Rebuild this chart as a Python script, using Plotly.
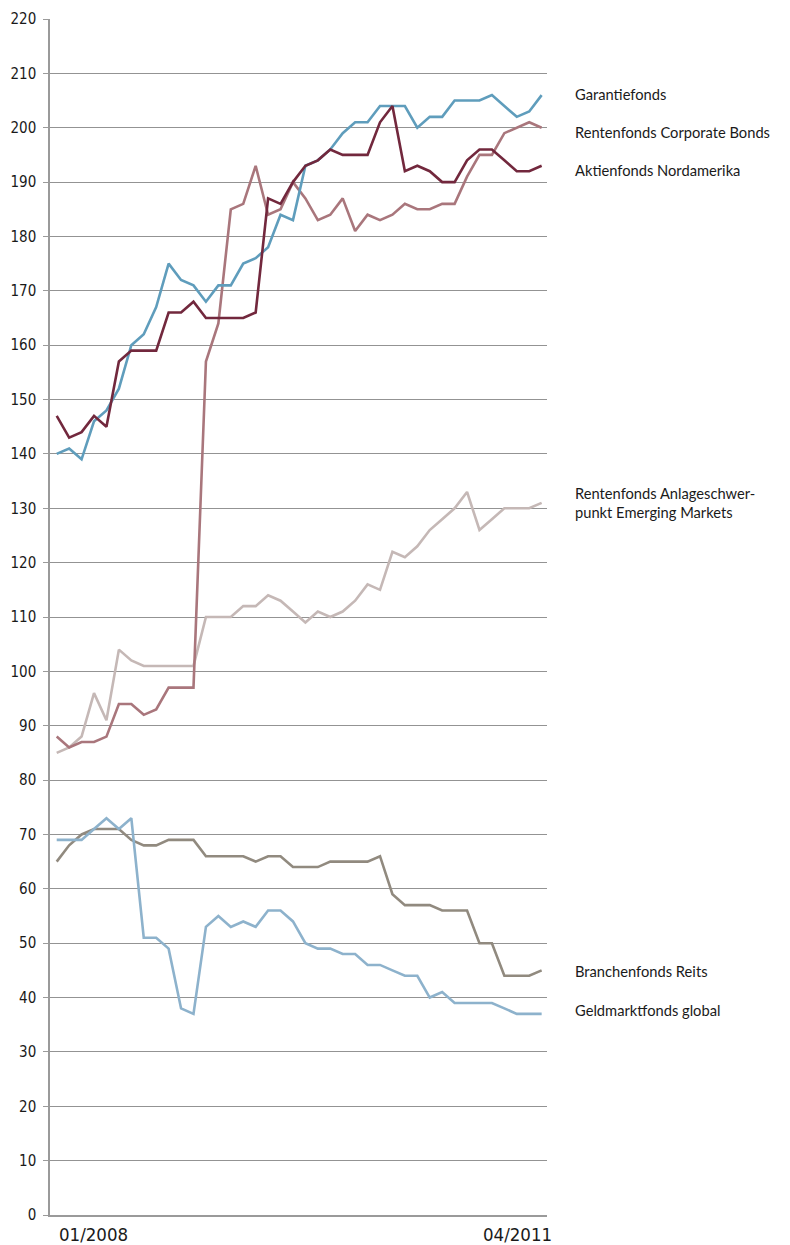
import plotly.graph_objects as go

months = [f"{m:02d}/{y}" for y in range(2008, 2012) for m in range(1, 13)][:40]
x_tick_labels = ["01/2008", "04/2011"]

garantiefonds = [140,141,139,146,148,152,160,162,167,175,172,171,168,171,171,175,176,178,184,183,
                 193,194,196,199,201,201,204,204,204,200,202,202,205,205,205,206,204,202,203,206]
aktien_nordamerika = [147,143,144,147,145,157,159,159,159,166,166,168,165,165,165,165,166,187,186,190,
                      193,194,196,195,195,195,201,204,192,193,192,190,190,194,196,196,194,192,192,193]
corporate_bonds = [88,86,87,87,88,94,94,92,93,97,97,97,157,164,185,186,193,184,185,190,
                   187,183,184,187,181,184,183,184,186,185,185,186,186,191,195,195,199,200,201,200]
emerging_markets = [85,86,88,96,91,104,102,101,101,101,101,101,110,110,110,112,112,114,113,111,
                    109,111,110,111,113,116,115,122,121,123,126,128,130,133,126,128,130,130,130,131]
reits = [65,68,70,71,71,71,69,68,68,69,69,69,66,66,66,66,65,66,66,64,
         64,64,65,65,65,65,66,59,57,57,57,56,56,56,50,50,44,44,44,45]
geldmarkt = [69,69,69,71,73,71,73,51,51,49,38,37,53,55,53,54,53,56,56,54,
             50,49,49,48,48,46,46,45,44,44,40,41,39,39,39,39,38,37,37,37]

series = [
    ("Rentenfonds Anlageschwer-<br>punkt Emerging Markets", emerging_markets, "#c5b8b6"),
    ("Branchenfonds Reits", reits, "#918a7f"),
    ("Geldmarktfonds global", geldmarkt, "#8db2cc"),
    ("Rentenfonds Corporate Bonds", corporate_bonds, "#a9767c"),
    ("Garantiefonds", garantiefonds, "#5f9dbc"),
    ("Aktienfonds Nordamerika", aktien_nordamerika, "#72283d"),
]
label_pos = {
    "Garantiefonds": 206.2,
    "Rentenfonds Corporate Bonds": 199.2,
    "Aktienfonds Nordamerika": 192.3,
    "Rentenfonds Anlageschwer-<br>punkt Emerging Markets": 131.1,
    "Branchenfonds Reits": 44.8,
    "Geldmarktfonds global": 37.8,
}

fig = go.Figure()
for name, vals, color in series:
    fig.add_trace(go.Scatter(x=months, y=vals, mode="lines", name=name,
                             line=dict(color=color, width=2.6), showlegend=False))

annotations = []
for name, yv in label_pos.items():
    annotations.append(dict(xref="paper", yref="y", x=1.053, y=yv, xanchor="left", yanchor="middle",
                            text=name, showarrow=False, align="left",
                            font=dict(family="Lato, Noto Sans, sans-serif", size=14.7, color="#1a1a1a")))
tick_font = dict(family="Liberation Sans Narrow, DejaVu Sans Condensed, sans-serif", size=18.5, color="#1a1a1a")
annotations.append(dict(xref="x", yref="paper", x=months[0], y=0, yshift=-7, xanchor="left", yanchor="top",
                        xshift=0, text=x_tick_labels[0], showarrow=False, font=tick_font))
annotations.append(dict(xref="x", yref="paper", x=months[-1], y=0, yshift=-7, xanchor="right", yanchor="top",
                        xshift=12, text=x_tick_labels[1], showarrow=False, font=tick_font))

fig.update_layout(
    width=790, height=1245,
    margin=dict(l=50, r=243, t=19, b=30),
    plot_bgcolor="white", paper_bgcolor="white",
    annotations=annotations,
    xaxis=dict(type="category", range=[-0.54, 39.43], showgrid=False, showticklabels=False,
               showline=True, linecolor="#9a9a9a", linewidth=1.5, zeroline=False, ticks=""),
    yaxis=dict(range=[0, 220], dtick=10, tick0=0, showgrid=True, gridcolor="#939393", gridwidth=1,
               showline=True, linecolor="#9a9a9a", linewidth=1.5, ticks="outside", ticklen=5,
               tickcolor="#9a9a9a", zeroline=False, automargin=False, ticklabelstandoff=4,
               tickfont=dict(family="Liberation Sans Narrow, DejaVu Sans Condensed, sans-serif", size=15, color="#1a1a1a")),
)

fig.write_html("out.html", config={"displayModeBar": False},
               post_script="document.body.style.margin='0';document.body.style.padding='0';")
